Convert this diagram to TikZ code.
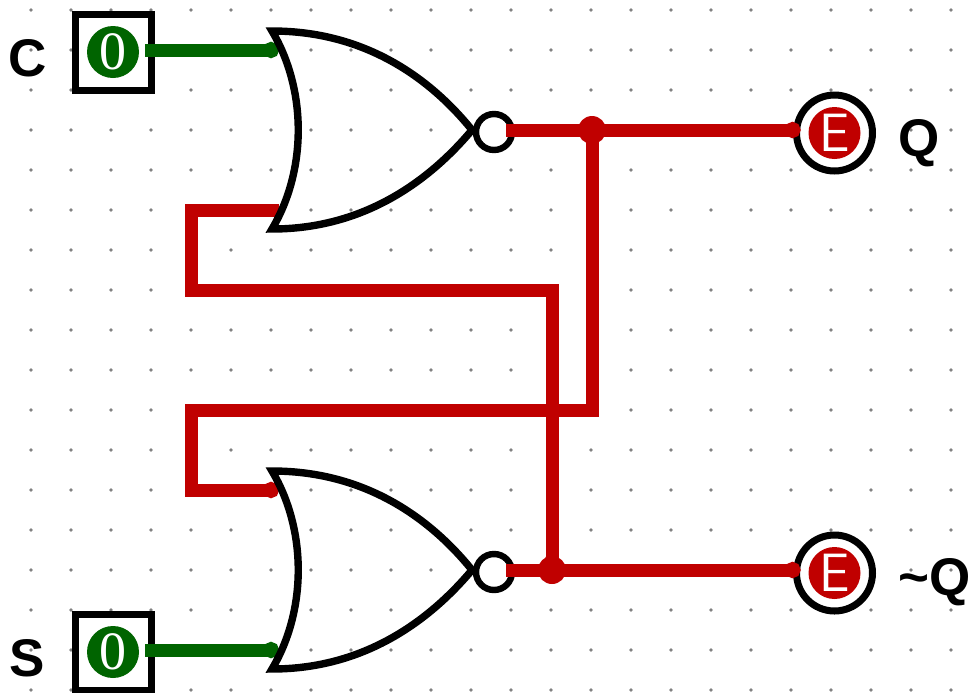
\documentclass[tikz,border=0pt]{standalone}
\usepackage{fontspec}
\setmainfont{Liberation Sans}
\newfontfamily\lampfont{Liberation Serif}
\usepackage{xcolor}
\usetikzlibrary{arrows.meta}
\definecolor{wirered}{RGB}{192,0,0}
\definecolor{wiregreen}{RGB}{0,100,0}
\tikzset{
  griddot/.style={fill=black!50, draw=none},
  gateline/.style={draw=black, line width=3.7pt, line join=miter},
  switchbox/.style={draw=black, fill=white, line width=3.5pt, rectangle, minimum size=38pt, inner sep=0pt, outer sep=0pt},
  lampring/.style={draw=black, fill=white, line width=3.5pt, circle, minimum size=38pt, inner sep=0pt, outer sep=0pt},
  bubble/.style={draw=black, fill=white, line width=3.2pt, circle, minimum size=18pt, inner sep=0pt, outer sep=0pt},
  statedisc/.style={circle, minimum size=26pt, inner sep=0pt, outer sep=0pt, text=white},
  joint/.style={circle, fill=wirered, minimum size=14pt, inner sep=0pt, outer sep=0pt},
  wire/.style={line width=6.5pt, -{Circle[length=8pt]}},
  pinname/.style={font=\bfseries\fontsize{26.5}{26.5}\selectfont, anchor=west, inner sep=0pt},
}
\begin{document}
\begin{tikzpicture}[x=0.5pt,y=-0.5pt]
    \useasboundingbox (0,0) rectangle (970,692);
    \foreach \x in {31,71,...,951}{\foreach \y in {10,50,...,690}{\path[griddot] (\x,\y) circle[radius=1.8];}}
    \foreach \y/\name in {52/C,652/S}{
        \node[switchbox] (box\name) at (113,\y) {};
        \node[statedisc, fill=wiregreen, font=\lampfont\fontsize{27}{27}\selectfont] (disc\name) at (113,\y) {0};
    }
    \foreach \y/\name in {133/Q,573/N}{
        \node[lampring] (lamp\name) at (834.5,\y) {};
        \node[statedisc, fill=wirered, font=\sffamily\fontsize{27}{27}\selectfont] (disc\name) at (834.5,\y) {E};
    }
    \foreach \off/\name in {0/A,440/B}{
        \node[bubble] (bub\name) at (494,132+\off) {};
        \coordinate (in\name1) at (279,50+\off);
        \coordinate (in\name2) at (279,210+\off);
    }
    \node[joint] (jointQ) at (592,130) {};
    \node[joint] (jointN) at (552,570) {};
    \draw[wire, wiregreen, shorten <=-3pt] (boxC.east |- inA1) -- (inA1);
    \draw[wire, wiregreen, shorten <=-3pt] (boxS.east |- inB2) -- (inB2);
    \draw[wire, wirered] (inA2) -- ++(-88,0) -- ++(0,80) -| (jointN.center);
    \draw[wire, wirered] (jointQ.center) -- ++(0,280) -- ++(-401,0) -- ++(0,80) -- (inB1);
    \draw[wire, wirered, shorten <=-3pt, shorten >=-2pt] (bubA.east |- jointQ) -- (jointQ -| lampQ.west);
    \draw[wire, wirered, shorten <=-3pt, shorten >=-2pt] (bubB.east |- jointN) -- (jointN -| lampN.west);
    \foreach \off in {0,440}{
        \draw[gateline] (272,31+\off) .. controls (307,90+\off) and (307,170+\off) .. (272,229+\off)
            .. controls (365,229+\off) and (430,180+\off) .. (472,130+\off)
            .. controls (430,78+\off) and (365,31+\off) .. cycle;
    }
    \node[pinname] (labelC) at (8,58) {C};
    \node[pinname] (labelS) at (9,658) {S};
    \node[pinname] (labelQ) at (898,143) {Q};
    \node[pinname] (labelN) at (898,582) {\textasciitilde Q};
\end{tikzpicture}
\end{document}
